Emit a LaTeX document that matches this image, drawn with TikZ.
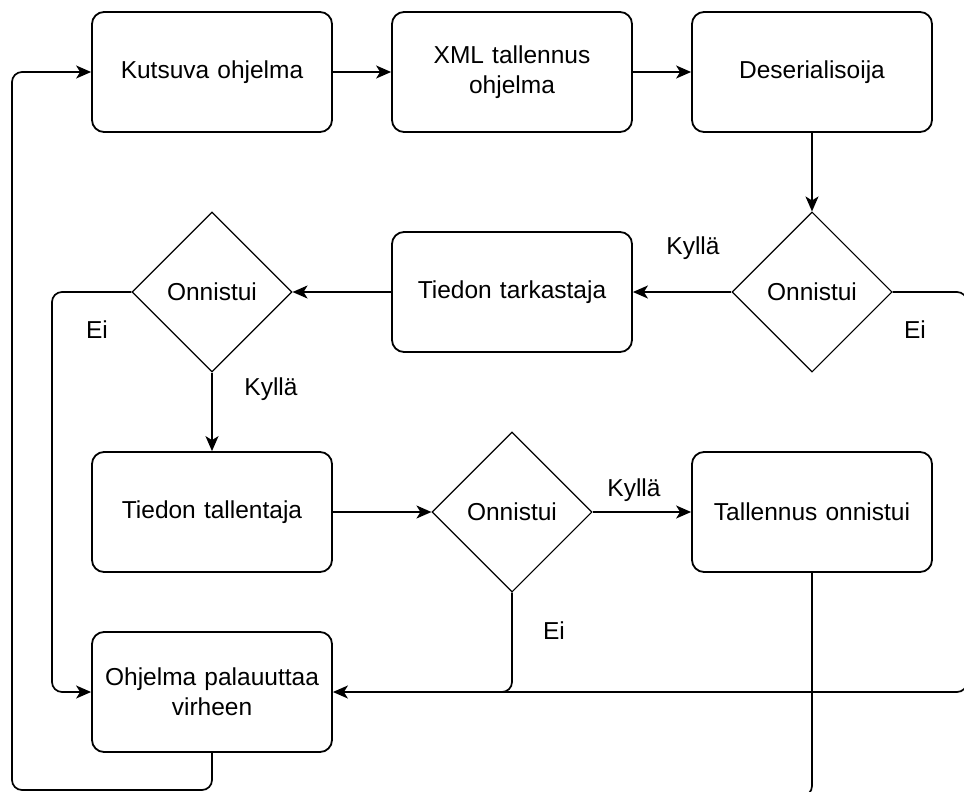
\documentclass[tikz,border=0pt]{standalone}
\usepackage{fontspec}
\setmainfont{Liberation Sans}
\usetikzlibrary{shapes.geometric,arrows.meta}
\tikzset{
  box/.style={draw=black, line width=1.8pt, rounded corners=12pt, minimum width=240pt, minimum height=120pt, align=center, inner sep=0pt, text width=230pt, font=\fontsize{24.5pt}{30pt}\selectfont},
  dia/.style={draw=black, line width=1.1pt, diamond, minimum width=160pt, minimum height=160pt, inner sep=0pt, aspect=1, font=\fontsize{24.5pt}{30pt}\selectfont},
  conn/.style={draw=black, line width=1.7pt, rounded corners=10pt, -{Stealth[length=15pt,width=13pt,inset=4pt]}},
  plain/.style={draw=black, line width=1.7pt, rounded corners=10pt},
  lbl/.style={font=\fontsize{24.5pt}{30pt}\selectfont, inner sep=0pt}
}
\begin{document}
\begin{tikzpicture}[x=1pt,y=-1pt]
\useasboundingbox (0,0) rectangle (964,792);
\clip (0,0) rectangle (964,792);
\fill[white] (0,0) rectangle (964,792);
% nodes
\node[box] (k) at (212,72) {Kutsuva ohjelma};
\node[box] (x) at (512,72) {XML tallennus\\ohjelma};
\node[box] (d) at (812,72) {Deserialisoija};
\node[dia] (r) at (812,292) {Onnistui};
\node[box] (tt) at (512,292) {Tiedon tarkastaja};
\node[dia] (l) at (212,292) {Onnistui};
\node[box] (tal) at (212,512) {Tiedon tallentaja};
\node[dia] (m) at (512,512) {Onnistui};
\node[box] (ton) at (812,512) {Tallennus onnistui};
\node[box] (o) at (212,692) {Ohjelma palauuttaa\\virheen};
% helper coordinates
\coordinate (lc) at (52,292);
\coordinate (rc) at (967,292);
\coordinate (mc) at (512,692);
\coordinate (ob) at (212,790);
\coordinate (oc) at (12,790);
\coordinate (kc) at (12,72);
\coordinate (tb) at (812,796);
\coordinate (tc) at (700,796);
% connectors
\draw[conn] (k.east) -- (x.west);
\draw[conn] (x.east) -- (d.west);
\draw[conn] (d.south) -- (r.north);
\draw[conn] (r.west) -- (tt.east);
\draw[conn] (tt.west) -- (l.east);
\draw[conn] (l.south) -- (tal.north);
\draw[conn] (tal.east) -- (m.west);
\draw[conn] (m.east) -- (ton.west);
\draw[conn] (l.west) -- (lc) |- (o.west);
\draw[conn] (r.east) -- (rc) |- (o.east);
\draw[plain] (m.south) -- (mc) -- ++(-40,0);
\draw[conn] (o.south) -- (ob) -- (oc) -- (kc) -- (k.west);
\draw[plain] (ton.south) -- (tb) -- (tc);
% labels
\node[lbl] (y1) at (693,248) {Kyllä};
\node[lbl] (e1) at (915,330) {Ei};
\node[lbl] (e2) at (97,330) {Ei};
\node[lbl] (y2) at (271,389) {Kyllä};
\node[lbl] (y3) at (634,490) {Kyllä};
\node[lbl] (e3) at (554,631) {Ei};
\end{tikzpicture}
\end{document}
